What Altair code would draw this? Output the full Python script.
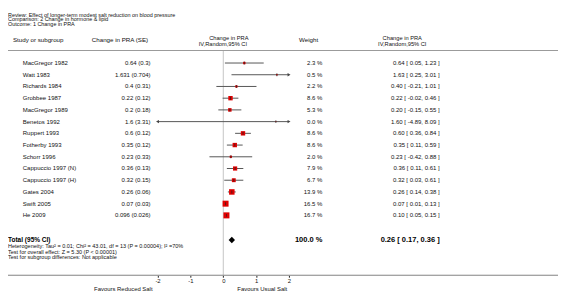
import altair as alt
import pandas as pd

studies = ["MacGregor 1982", "Watt 1983", "Richards 1984", "Grobbee 1987",
           "MacGregor 1989", "Benetos 1992", "Ruppert 1993", "Fotherby 1993",
           "Schorr 1996", "Cappuccio 1997 (N)", "Cappuccio 1997 (H)",
           "Gates 2004", "Swift 2005", "He 2009"]
se_text = ["0.64 (0.3)", "1.631 (0.704)", "0.4 (0.31)", "0.22 (0.12)",
           "0.2 (0.18)", "1.6 (3.31)", "0.6 (0.12)", "0.35 (0.12)",
           "0.23 (0.33)", "0.36 (0.13)", "0.32 (0.15)", "0.26 (0.06)",
           "0.07 (0.03)", "0.096 (0.026)"]
est = [0.64, 1.631, 0.40, 0.22, 0.20, 1.60, 0.60, 0.35, 0.23, 0.36, 0.32, 0.26, 0.07, 0.096]
lo = [0.05, 0.25, -0.21, -0.02, -0.15, -4.89, 0.36, 0.11, -0.42, 0.11, 0.03, 0.14, 0.01, 0.05]
hi = [1.23, 3.01, 1.01, 0.46, 0.55, 8.09, 0.84, 0.59, 0.88, 0.61, 0.61, 0.38, 0.13, 0.15]
weights = [2.3, 0.5, 2.2, 8.6, 5.3, 0.0, 8.6, 8.6, 2.0, 7.9, 6.7, 13.9, 16.5, 16.7]

total_est, total_lo, total_hi, total_weight = 0.26, 0.17, 0.36, 100.0
axis_ticks = [-2, -1, 0, 1, 2]
x_lim = (-2, 2)

title_lines = ["Review:  Effect of longer-term modest salt reduction on blood pressure",
               "Comparison:  2 Change in hormone & lipid",
               "Outcome:  1 Change in PRA"]
foot_lines = ["Heterogeneity: Tau\u00b2 = 0.01; Chi\u00b2 = 43.01, df = 13 (P = 0.00004); I\u00b2 =70%",
              "Test for overall effect: Z = 5.30 (P < 0.00001)",
              "Test for subgroup differences: Not applicable"]

rows = []
for i, s in enumerate(studies):
    rows.append(dict(
        row=i, study=s, se=se_text[i], est=est[i], lo=lo[i], hi=hi[i],
        lo_c=max(lo[i], x_lim[0]), hi_c=min(hi[i], x_lim[1]),
        weight=weights[i], wtxt=f"{weights[i]:.1f} %",
        ci=f"{est[i]:.2f} [ {lo[i]:.2f}, {hi[i]:.2f} ]"))
df = pd.DataFrame(rows)

arrows = []
for r in rows:
    if r["lo"] < x_lim[0]:
        arrows.append(dict(row=r["row"], x=x_lim[0], shape="triangle-left"))
    if r["hi"] > x_lim[1]:
        arrows.append(dict(row=r["row"], x=x_lim[1], shape="triangle-right"))
arr_df = pd.DataFrame(arrows)

total_row = len(studies) + 1.1
tot_df = pd.DataFrame([dict(row=total_row, est=total_est,
                            wtxt=f"{total_weight:.1f} %",
                            ci=f"{total_est:.2f} [ {total_lo:.2f}, {total_hi:.2f} ]",
                            label="Total (95% CI)")])

FONT = "Liberation Sans"
W, H = 558, 293
AXIS_Y = 269
xs = alt.Scale(domain=[-6.549, 10.183], nice=False, zero=False)
# row spacing 11.89px, first row at 53.7px from the top of the view
ys = alt.Scale(domain=[-4.516, -4.516 + H / 11.89], nice=False, zero=False, reverse=True)
x_axis = alt.Axis(
    values=axis_ticks, labelExpr="'' + datum.value", title=None, grid=False,
    domain=False, tickColor="#222", tickSize=2, offset=AXIS_Y - H,
    labelPadding=0, labelFontSize=6, labelFont=FONT, labelColor="#111", orient="bottom")
X = lambda f: alt.X(f, scale=xs, axis=x_axis)
Y = alt.Y("row:Q", scale=ys, axis=None)

one = pd.DataFrame({"k": [0]})


def label(text, x, y, align="left", size=6.1, weight="normal", color="#111"):
    return alt.Chart(one).mark_text(
        text=text, align=align, baseline="middle", font=FONT, fontSize=size,
        fontWeight=weight, color=color).encode(x=alt.value(x), y=alt.value(y))


base = alt.Chart(df)

zero_rule = alt.Chart(one).mark_rule(color="#c4c4c4", strokeWidth=1).encode(
    x=alt.datum(0, scale=xs, axis=x_axis), y=alt.value(41), y2=alt.value(AXIS_Y))
top_line = alt.Chart(one).mark_rule(color="#999", strokeWidth=1).encode(
    x=alt.value(0), x2=alt.value(W), y=alt.value(41))
bottom_line = alt.Chart(one).mark_rule(color="#808080", strokeWidth=1).encode(
    x=alt.value(0), x2=alt.value(W), y=alt.value(AXIS_Y))

ci_lines = base.mark_rule(color="#555", strokeWidth=1).encode(
    x=X("lo_c:Q"), x2="hi_c:Q", y=Y)
squares = base.mark_square(filled=True, color="#e00000", opacity=1).encode(
    x=X("est:Q"), y=Y,
    size=alt.Size("weight:Q", scale=alt.Scale(domain=[0, 17], range=[1, 38]), legend=None))
ticks = base.mark_tick(orient="vertical", color="#222", size=3, thickness=1).encode(
    x=X("est:Q"), y=Y)
arrow_marks = alt.Chart(arr_df).mark_point(filled=True, color="#444", size=12, opacity=1).encode(
    x=X("x:Q"), y=Y, shape=alt.Shape("shape:N", scale=None, legend=None))
diamond = alt.Chart(tot_df).mark_point(shape="diamond", filled=True, color="#000",
                                       size=42, opacity=1).encode(x=X("est:Q"), y=Y)

txt = dict(font=FONT, fontSize=6.1, baseline="middle", color="#111")
names = base.mark_text(align="left", **txt).encode(x=alt.value(15), y=Y, text="study:N")
ses = base.mark_text(align="right", **txt).encode(x=alt.value(144.7), y=Y, text="se:N")
wts = base.mark_text(align="right", **txt).encode(x=alt.value(319), y=Y, text="wtxt:N")
cis = base.mark_text(align="right", **txt).encode(x=alt.value(438), y=Y, text="ci:N")

tot = alt.Chart(tot_df)
tot_label = tot.mark_text(align="left", font=FONT, fontSize=6.6, fontWeight="bold",
                          baseline="middle", color="#000").encode(
    x=alt.value(0), y=Y, text="label:N")
tot_w = tot.mark_text(align="right", font=FONT, fontSize=7.6, fontWeight="bold",
                      baseline="middle", color="#000").encode(
    x=alt.value(319), y=Y, text="wtxt:N")
tot_ci = tot.mark_text(align="right", font=FONT, fontSize=7.6, fontWeight="bold",
                       baseline="middle", color="#000").encode(
    x=alt.value(438), y=Y, text="ci:N")

labels = [
    label(title_lines[0], 0, 4.7, size=5.5),
    label(title_lines[1], 0, 9.3, size=5.5),
    label(title_lines[2], 0, 14, size=5.5),
    label("Study or subgroup", 5, 30.3, size=6.3),
    label("Change in PRA (SE)", 85, 30.3, size=6.3),
    label("Change in PRA", 224, 28.6, align="center", size=5.8),
    label("IV,Random,95% CI", 218, 34.6, align="center", size=5.8),
    label("Weight", 305, 30.3, align="center", size=6.3),
    label("Change in PRA", 400, 28.6, align="center", size=5.8),
    label("IV,Random,95% CI", 400, 34.6, align="center", size=5.8),
    label(foot_lines[0], 0, 239, size=5.6),
    label(foot_lines[1], 0, 245, size=5.6),
    label(foot_lines[2], 0, 251, size=5.6),
    label("Favours Reduced Salt", 117, 282.5, align="center", size=6.0),
    label("Favours Usual Salt", 258, 282.5, align="center", size=6.0),
]

chart = alt.layer(
    zero_rule, top_line, bottom_line, ci_lines, squares, ticks, arrow_marks, diamond,
    names, ses, wts, cis, tot_label, tot_w, tot_ci, *labels
).properties(
    width=W, height=H,
    autosize=alt.AutoSizeParams(type="none"),
    padding={"left": 0, "top": 0, "right": 0, "bottom": 0},
    background="white",
).configure_view(stroke=None)

chart.save("out.html", embed_options={"renderer": "svg", "actions": False})
